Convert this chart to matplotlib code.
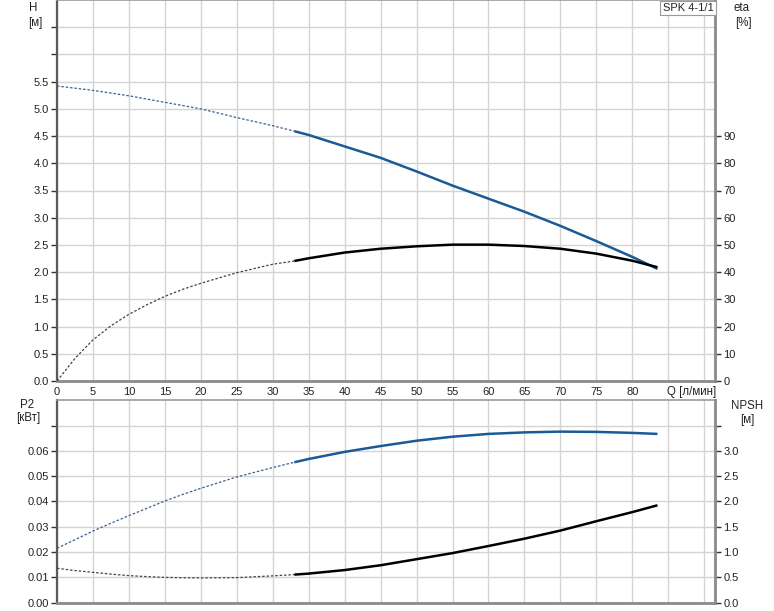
import matplotlib
matplotlib.use("Agg")
import matplotlib.pyplot as plt
import numpy as np

plt.rcParams['font.family'] = ['Liberation Sans', 'DejaVu Sans']

# ---- data ----
q = [0, 2.5, 5, 7.5, 10, 12.5, 15, 17.5, 20, 25, 30, 33, 35, 40, 45, 50, 55, 60,
     65, 70, 75, 80, 83.5]
head = [5.42, 5.38, 5.34, 5.29, 5.24, 5.18, 5.12, 5.06, 5.00, 4.84, 4.69, 4.59,
        4.52, 4.31, 4.10, 3.85, 3.59, 3.35, 3.11, 2.85, 2.57, 2.28, 2.06]
eta = [0.0, 8.3, 15.1, 20.3, 24.5, 28.0, 31.1, 33.7, 35.9, 39.8, 42.9, 44.1,
       45.1, 47.2, 48.6, 49.5, 50.1, 50.1, 49.6, 48.6, 46.8, 44.2, 41.8]
p2 = [0.0215, 0.0249, 0.0283, 0.0314, 0.0344, 0.0373, 0.0402, 0.0428, 0.0452,
      0.0497, 0.0534, 0.0555, 0.0568, 0.0596, 0.0619, 0.0640, 0.0656, 0.0667,
      0.0673, 0.0676, 0.0675, 0.0671, 0.0667]
npsh = [0.68, 0.635, 0.60, 0.565, 0.535, 0.515, 0.50, 0.493, 0.49, 0.495, 0.53,
        0.555, 0.575, 0.645, 0.74, 0.86, 0.98, 1.12, 1.265, 1.425, 1.61, 1.79, 1.925]
q_start = 33  # start of the solid (operating) range
model = "SPK 4-1/1"
x_ticks = [0, 5, 10, 15, 20, 25, 30, 35, 40, 45, 50, 55, 60, 65, 70, 75, 80, 85, 90]
h_ticks = [0.0, 0.5, 1.0, 1.5, 2.0, 2.5, 3.0, 3.5, 4.0, 4.5, 5.0, 5.5, 6.0, 6.5]
eta_ticks = [0, 10, 20, 30, 40, 50, 60, 70, 80, 90, 100, 110, 120, 130]
p2_ticks = [0.00, 0.01, 0.02, 0.03, 0.04, 0.05, 0.06, 0.07]
npsh_ticks = [0.0, 0.5, 1.0, 1.5, 2.0, 2.5, 3.0, 3.5]

BLUE = '#1a5a96'
BLACK = '#000000'
GRID = '#d4d4d4'

W, H = 774, 611
fig = plt.figure(figsize=(W / 100, H / 100), dpi=100)

L, R = 57, 715
ax1 = fig.add_axes([L / W, 1 - 381 / H, (R - L) / W, 381 / H])
ax3 = fig.add_axes([L / W, 1 - 602.7 / H, (R - L) / W, (602.7 - 400) / H])
ax2 = ax1.twinx()
ax4 = ax3.twinx()

qa = np.array(q)
def split(vals):
    v = np.array(vals)
    m1 = qa <= q_start
    m2 = qa >= q_start
    return (qa[m1], v[m1]), (qa[m2], v[m2])

def draw(ax, vals, color, dashcolor):
    (qd, vd), (qs, vs) = split(vals)
    ax.plot(qd, vd, color=dashcolor, lw=0.9, ls=(0, (2, 1.5)), zorder=3)
    ax.plot(qs, vs, color=color, lw=1.8, zorder=4, solid_capstyle='butt',
            solid_joinstyle='round')

FS = 8.0
for ax in (ax1, ax3):
    ax.set_xlim(0, 91.5)
    ax.set_xticks(x_ticks)
    ax.grid(True, color=GRID, lw=1.0)
    ax.set_axisbelow(True)
    ax.spines['left'].set_color('#5a5a5a')
    ax.spines['left'].set_linewidth(1.6)
    ax.spines['bottom'].set_color('#8a8a8a')
    ax.spines['bottom'].set_linewidth(2.0)
    ax.spines['top'].set_color('#9a9a9a')
    ax.spines['top'].set_linewidth(1.2)
    ax.spines['right'].set_visible(False)
    ax.tick_params(axis='y', length=4, width=1, colors='#333333', labelsize=FS,
                   labelcolor='#222222', pad=2)
    ax.tick_params(axis='x', length=0, labelsize=FS, labelcolor='#222222', pad=4)

for ax in (ax2, ax4):
    ax.spines['right'].set_color('#8a8a8a')
    ax.spines['right'].set_linewidth(2.0)
    for s in ('left', 'top', 'bottom'):
        ax.spines[s].set_visible(False)
    ax.tick_params(axis='y', length=4, width=1, colors='#333333', labelsize=FS,
                   labelcolor='#222222', pad=2)

# top panel
ax1.set_ylim(0, 7.0)
ax1.set_yticks(h_ticks)
ax1.set_yticklabels([f"{t:.1f}" if t <= 5.5 else "" for t in h_ticks])
ax1.set_xticklabels([str(t) if t <= 80 else "" for t in x_ticks])
ax2.set_ylim(0, 140)
ax2.set_yticks([t for t in eta_ticks if t <= 90])
ax2.set_yticklabels([str(t) for t in eta_ticks if t <= 90])

draw(ax1, head, BLUE, '#3a5f8c')
draw(ax2, eta, BLACK, '#444444')

# bottom panel
ax3.set_ylim(0, 0.0801)
ax3.set_yticks(p2_ticks)
ax3.set_yticklabels([f"{t:.2f}" if t <= 0.06 else "" for t in p2_ticks])
ax3.set_xticklabels([])
ax4.set_ylim(0, 4.005)
ax4.set_yticks(npsh_ticks)
ax4.set_yticklabels([f"{t:.1f}" if t <= 3.0 else "" for t in npsh_ticks])

draw(ax3, p2, BLUE, '#3a5f8c')
draw(ax4, npsh, BLACK, '#444444')

# axis titles
def ftext(x, y, s, ha='center'):
    fig.text(x / W, 1 - y / H, s, ha=ha, va='center', fontsize=FS + 0.3, color='#222222')

ftext(33, 8, "H")
ftext(35, 23, "[м]")
ftext(741, 8, "eta")
ftext(743, 23, "[%]")
ftext(27, 405, "P2")
ftext(28, 418, "[кВт]")
ftext(747, 406, "NPSH")
ftext(747, 420, "[м]")
ftext(667, 392, "Q [л/мин]", ha='left')

# model label box
fig.text(688 / W, 1 - 8 / H, model, ha='center', va='center', fontsize=FS,
         color='#222222',
         bbox=dict(boxstyle='square,pad=0.2', fc='white', ec='#999999', lw=0.8))

fig.savefig("out.png", dpi=100)
